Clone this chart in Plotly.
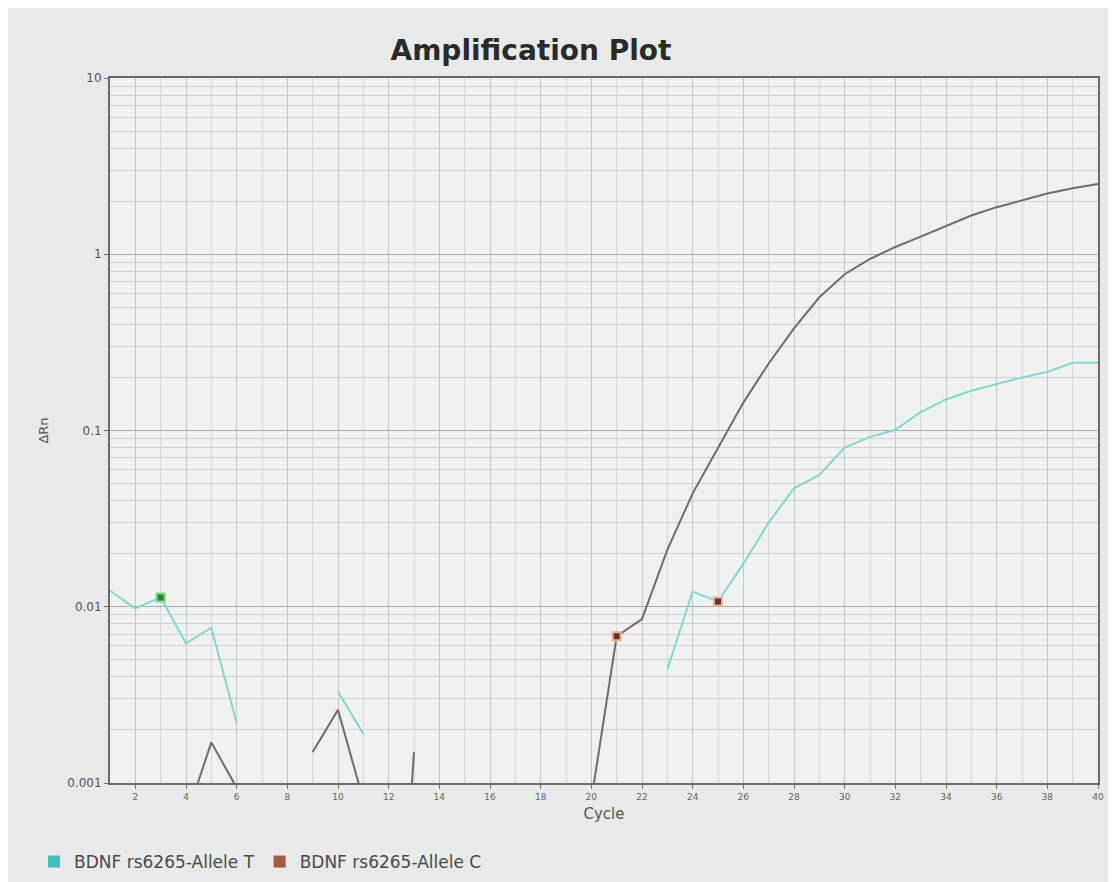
import plotly.graph_objects as go

cycles = list(range(1, 41))

allele_t = [0.0123, 0.0098, 0.0113, 0.0062, 0.0076, 0.0022, None, None, None, 0.0033,
            0.0019, None, None, None, None, None, None, None, None, None,
            None, None, 0.0044, 0.0122, 0.0107, 0.0175, 0.030, 0.047, 0.056, 0.080,
            0.092, 0.101, 0.127, 0.150, 0.168, 0.184, 0.200, 0.215, 0.242, 0.242]

allele_c = [None, None, None, 0.00063, 0.0017, 0.00094, None, None, 0.0015, 0.0026,
            0.0008, 0.00001, 0.0015, None, None, None, None, None, None, 0.0008,
            0.0068, 0.0085, 0.021, 0.044, 0.080, 0.144, 0.24, 0.38, 0.57, 0.77,
            0.94, 1.10, 1.26, 1.45, 1.66, 1.85, 2.03, 2.21, 2.37, 2.5]

# indices of the small well markers drawn on the curves
t_marker_green = [2]
t_marker_orange = [24]
c_marker_orange = [20]

y_tickvals = [0.001, 0.01, 0.1, 1, 10]
y_ticktext = ["0.001", "0.01", "0.1", "1", "10"]
x_tickvals = list(range(2, 41, 2))

teal_line = "#86d6d0"
c_line = "#756a68"
teal_legend = "#3fc0bf"
brown_legend = "#a55a3f"

fig = go.Figure()

fig.add_trace(go.Scatter(x=cycles, y=allele_t, mode="lines",
                         line=dict(color=teal_line, width=2),
                         connectgaps=False, showlegend=False))
fig.add_trace(go.Scatter(x=cycles, y=allele_c, mode="lines",
                         line=dict(color=c_line, width=2),
                         connectgaps=False, showlegend=False))

fig.add_trace(go.Scatter(x=[cycles[i] for i in t_marker_green],
                         y=[allele_t[i] for i in t_marker_green],
                         mode="markers",
                         marker=dict(symbol="square", size=8, color="#3f7a45",
                                     line=dict(color="#7fd07f", width=2)),
                         showlegend=False))
fig.add_trace(go.Scatter(x=[cycles[i] for i in t_marker_orange] + [cycles[i] for i in c_marker_orange],
                         y=[allele_t[i] for i in t_marker_orange] + [allele_c[i] for i in c_marker_orange],
                         mode="markers",
                         marker=dict(symbol="square", size=8, color="#5a3a30",
                                     line=dict(color="#f2b08e", width=2)),
                         showlegend=False))

# legend entries (squares)
fig.add_trace(go.Scatter(x=[None], y=[None], mode="markers", name="BDNF rs6265-Allele T",
                         marker=dict(symbol="square", size=14, color=teal_legend)))
fig.add_trace(go.Scatter(x=[None], y=[None], mode="markers", name="BDNF rs6265-Allele C",
                         marker=dict(symbol="square", size=14, color=brown_legend)))

fig.update_layout(
    width=1108, height=874,
    margin=dict(l=102, r=16, t=70, b=99),
    paper_bgcolor="#e7eae8",
    plot_bgcolor="#eef1ef",
    font=dict(family="DejaVu Sans, Arial, sans-serif", color="#555"),
    title=dict(text="<b>Amplification Plot</b>", x=523 / 1108, xanchor="center",
               y=1 - 42 / 874, yanchor="middle", yref="container",
               font=dict(size=28, color="#2a2a2a", family="DejaVu Sans, sans-serif")),
    legend=dict(orientation="h", xref="container", x=26 / 1108, xanchor="left",
                yref="container", y=1 - 854 / 874, yanchor="middle",
                font=dict(size=17, color="#4a4a4a"), bgcolor="rgba(0,0,0,0)",
                itemsizing="constant", itemwidth=30),
    xaxis=dict(
        range=[1, 40], tickvals=x_tickvals, ticks="outside", ticklen=4,
        tickcolor="#777", tickfont=dict(size=9, color="#666"),
        showline=True, linecolor="#6b6b6b", linewidth=2, mirror=True,
        showgrid=True, gridcolor="#c3c8c6", gridwidth=1, zeroline=False,
        minor=dict(dtick=1, tick0=1, showgrid=True, gridcolor="#d5d9d7"),
        title=dict(text="Cycle", font=dict(size=15, color="#555"), standoff=8),
    ),
    yaxis=dict(
        type="log", range=[-3, 1], tickvals=y_tickvals, ticktext=y_ticktext,
        ticks="outside", ticklen=4, tickcolor="#777",
        tickfont=dict(size=12, color="#555"),
        showline=True, linecolor="#6b6b6b", linewidth=2, mirror=True,
        showgrid=True, gridcolor="#a9afad", gridwidth=1, zeroline=False,
        minor=dict(dtick="D1", showgrid=True, gridcolor="#ced3d1"),
        title=dict(text="ΔRn", font=dict(size=13, color="#555"), standoff=16),
    ),
)

fig.write_html("out.html")
